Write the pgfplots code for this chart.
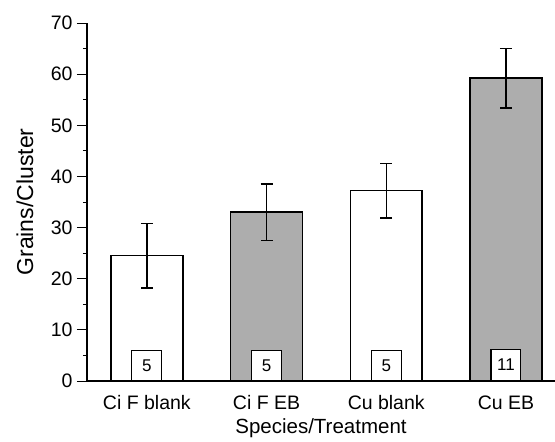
\documentclass[border=0pt]{standalone}
\usepackage{fontspec}
\setmainfont{Liberation Sans}
\usepackage{pgfplots}
\pgfplotsset{compat=1.18}
\newcommand{\tickfont}{\fontsize{19.5bp}{22bp}\selectfont}
\begin{document}
\begin{tikzpicture}
\begin{axis}[
    scale only axis,
    width=468bp, height=358bp,
    xmin=-0.5, xmax=3.41,
    ymin=0, ymax=70,
    axis lines=left,
    axis line style={line width=1.4pt, -},
    ytick={0,10,...,70},
    minor y tick num=1,
    tick align=outside,
    tick style={line width=1pt, black},
    major tick length=10bp,
    minor tick length=4bp,
    xtick={0,1,2,3},
    xticklabels={Ci F blank,Ci F EB,Cu blank,Cu EB},
    x tick style={draw=none},
    extra x ticks={-0.5,0.5,1.5,2.5},
    extra x tick labels={},
    extra x tick style={major tick length=11bp, tick style={draw=black, line width=1pt}},
    tick label style={font=\tickfont},
    xticklabel style={anchor=center, yshift=-12bp},
    yticklabel style={xshift=-1bp},
    /pgf/number format/assume math mode=true,
    xlabel={Species/Treatment},
    ylabel={Grains/Cluster},
    xlabel style={font=\fontsize{20.5bp}{23bp}\selectfont, at={(axis description cs:0.5,0)}, anchor=center, yshift=-47bp},
    ylabel style={font=\fontsize{23bp}{26bp}\selectfont, at={(axis description cs:0,0.5)}, anchor=center, yshift=62bp},
    clip=false,
]
\coordinate (O) at (rel axis cs:0,0);
% white bars
\addplot[ybar, bar shift=0pt, bar width=0.6, fill=white, draw=black, line width=1.5pt,
    error bars/.cd, y dir=both, y explicit,
    error bar style={line width=1.4pt},
    error mark options={rotate=90, mark size=6bp, line width=1.4pt}]
  coordinates {(0,24.5) +- (0,6.3) (2,37.2) +- (0,5.35)};
% grey bars
\addplot[ybar, bar shift=0pt, bar width=0.6, fill=black!32, draw=black, line width=1.5pt,
    error bars/.cd, y dir=both, y explicit,
    error bar style={line width=1.4pt},
    error mark options={rotate=90, mark size=6bp, line width=1.4pt}]
  coordinates {(1,33.0) +- (0,5.5) (3,59.2) +- (0,5.8)};
% sample size boxes
\addplot[ybar, bar shift=0pt, bar width=0.25, fill=white, draw=black, line width=1.2pt]
  coordinates {(0,6) (1,6) (2,6) (3,6.2)};
\addplot[only marks, mark=none, point meta=explicit symbolic,
    nodes near coords, every node near coord/.append style={anchor=center, font=\fontsize{17bp}{19bp}\selectfont}]
  coordinates {(0,3)[5] (1,3)[5] (2,3)[5] (3,3.1)[11]};
\end{axis}
\pgfresetboundingbox
\path ([shift={(-87bp,-61bp)}]O) rectangle ++(555bp,442bp);
\end{tikzpicture}
\end{document}
